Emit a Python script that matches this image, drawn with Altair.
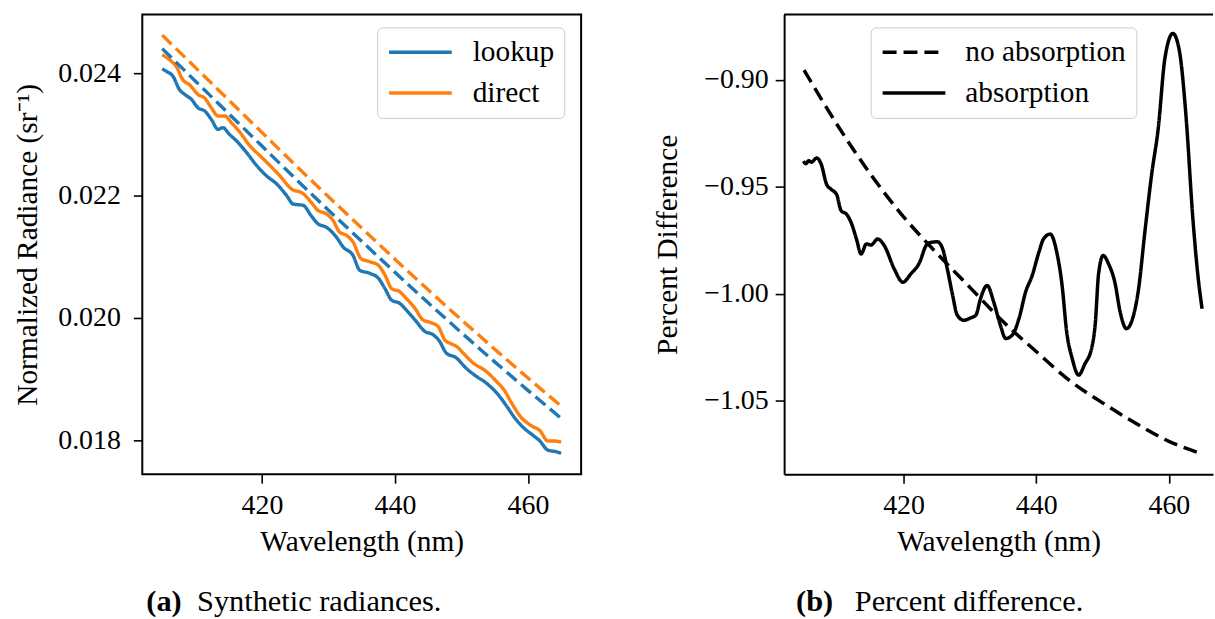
import altair as alt
import pandas as pd

FONT = "Liberation Serif"

# ---------------- panel (a): synthetic radiances ----------------
series_names = ["lookup", "direct"]
series_colors = ["#1f77b4", "#ff7f0e"]
kind_names = ["absorption", "no absorption"]

wl_smooth = [405, 410, 415, 420, 425, 430, 435, 440, 445, 450, 455, 460, 465]
direct_noabs = [0.02462, 0.02409, 0.02356, 0.02303, 0.02250, 0.02198, 0.02147,
                0.02096, 0.02046, 0.01997, 0.01949, 0.01902, 0.01856]
lookup_noabs = [0.024400, 0.023868, 0.023338, 0.022808, 0.022279, 0.021761, 0.021253,
                0.020745, 0.020247, 0.019760, 0.019283, 0.018817, 0.018361]

wl_direct_abs = [405.0, 406.4, 407.1, 408.1, 409.1, 410.4, 411.4, 412.4, 413.4, 414.4,
                 415.4, 416.7, 418.2, 419.7, 421.2, 422.7, 424.4, 426.2, 427.4, 428.4,
                 429.7, 430.7, 431.7, 432.7, 433.7, 434.9, 436.2, 437.5, 438.5, 439.5,
                 440.7, 441.7, 443.0, 444.2, 445.5, 446.5, 447.5, 448.2, 449.2, 450.5,
                 451.7, 453.7, 455.2, 456.5, 457.5, 458.8, 460.5, 461.8, 463.0, 464.0, 465.0]
direct_abs = [0.02430, 0.02419, 0.02411, 0.02389, 0.02381, 0.02365, 0.02359, 0.02343, 0.02330, 0.02330,
              0.02319, 0.02303, 0.02281, 0.02265, 0.02249, 0.02232, 0.02211, 0.02203, 0.02189, 0.02176,
              0.02170, 0.02159, 0.02140, 0.02135, 0.02124, 0.02097, 0.02092, 0.02086, 0.02070, 0.02048,
              0.02043, 0.02032, 0.02016, 0.01997, 0.01992, 0.01986, 0.01964, 0.01959, 0.01954, 0.01940,
              0.01927, 0.01913, 0.01897, 0.01881, 0.01862, 0.01840, 0.01824, 0.01816, 0.01799, 0.01799, 0.01797]

wl_lookup_abs = [405.0, 405.6, 406.6, 407.6, 408.4, 409.4, 410.4, 411.4, 412.4, 413.4,
                 414.1, 415.1, 416.2, 417.7, 419.2, 420.7, 422.2, 423.7, 424.7, 426.2,
                 427.4, 428.4, 429.7, 431.2, 432.2, 433.7, 434.7, 436.2, 437.5, 438.5,
                 439.5, 440.7, 441.7, 443.0, 444.5, 445.7, 446.7, 447.7, 449.2, 450.7,
                 452.2, 453.7, 455.5, 456.8, 458.0, 459.3, 460.8, 461.8, 463.0, 464.0, 465.0]
lookup_abs = [0.02407, 0.02403, 0.02395, 0.02373, 0.02365, 0.02357, 0.02343, 0.02338, 0.02324, 0.02308,
              0.02311, 0.02300, 0.02289, 0.02270, 0.02249, 0.02232, 0.02219, 0.02200, 0.02186, 0.02184,
              0.02167, 0.02154, 0.02148, 0.02132, 0.02116, 0.02102, 0.02078, 0.02073, 0.02065, 0.02048,
              0.02029, 0.02024, 0.02013, 0.01997, 0.01978, 0.01973, 0.01962, 0.01943, 0.01935, 0.01918,
              0.01905, 0.01894, 0.01875, 0.01856, 0.01837, 0.01821, 0.01808, 0.01799, 0.01784, 0.01782, 0.01779]

# ---------------- panel (b): percent difference ----------------
pd_kind_names = ["no absorption", "absorption"]
pd_noabs = [-0.8955, -0.921, -0.944, -0.964, -0.981, -0.997, -1.013,
            -1.027, -1.0405, -1.051, -1.0605, -1.069, -1.0748]

wl_pd_abs = [404.9, 405.3, 405.7, 406.1, 406.9, 407.6, 408.4, 409.1, 409.9, 410.6,
             411.4, 412.1, 412.9, 413.6, 414.4, 415.1, 416.1, 417.1, 418.6, 419.9,
             421.1, 422.4, 423.4, 424.1, 425.1, 425.9, 426.6, 427.4, 428.1, 429.1,
             430.1, 430.9, 431.6, 432.6, 433.6, 434.6, 435.4, 436.4, 437.4, 438.4,
             439.4, 440.4, 441.1, 442.1, 443.1, 443.9, 444.6, 445.4, 446.4, 447.3,
             448.4, 448.9, 449.4, 450.1, 450.9, 451.9, 452.6, 453.6, 454.6, 455.4,
             456.4, 457.4, 458.4, 459.4, 460.6, 461.6, 462.6, 463.6, 464.4, 465.0]
pd_abs = [-0.9380, -0.9392, -0.9378, -0.9385, -0.9365, -0.9395, -0.9488, -0.9512, -0.9535, -0.9612,
          -0.9628, -0.9667, -0.9744, -0.9814, -0.9767, -0.9772, -0.9744, -0.9775, -0.9884, -0.9946,
          -0.9907, -0.9855, -0.9775, -0.9760, -0.9757, -0.9790, -0.9884, -1.0007, -1.0100, -1.0124,
          -1.0113, -1.0100, -1.0023, -0.9961, -1.0039, -1.0147, -1.0209, -1.0193, -1.0116, -0.9992,
          -0.9914, -0.9806, -0.9744, -0.9721, -0.9806, -0.9961, -1.0180, -1.0300, -1.0380, -1.0330,
          -1.0248, -1.0140, -0.9907, -0.9821, -0.9860, -0.9953, -1.0077, -1.0163, -1.0108, -0.9984,
          -0.9705, -0.9442, -0.9225, -0.8899, -0.8783, -0.8868, -0.9178, -0.9643, -0.9922, -1.0070]

x_ticks = [420, 440, 460]
y_ticks_a = [0.018, 0.020, 0.022, 0.024]
y_ticks_b = [-1.05, -1.00, -0.95, -0.90]
captions_a = ["(a)", "Synthetic radiances."]
captions_b = ["(b)", "Percent difference."]


def frame(wl, vals, series, kind):
    return pd.DataFrame({"wavelength": wl, "value": vals, "series": series, "kind": kind})


df_a = pd.concat([
    frame(wl_lookup_abs, lookup_abs, "lookup", "absorption"),
    frame(wl_direct_abs, direct_abs, "direct", "absorption"),
    frame(wl_smooth, lookup_noabs, "lookup", "no absorption"),
    frame(wl_smooth, direct_noabs, "direct", "no absorption"),
], ignore_index=True)
df_a["line"] = df_a["series"] + " " + df_a["kind"]

df_b = pd.concat([
    frame(wl_smooth, pd_noabs, "pd", "no absorption"),
    frame(wl_pd_abs, pd_abs, "pd", "absorption"),
], ignore_index=True)

W_A, H = 441, 462
W_B = 431
TITLE_SIZE = 29.5
LABEL_SIZE = 28
CAP_SIZE = 30.5


def legend(x, y, label_offset):
    return alt.Legend(
        orient="none", legendX=x, legendY=y, title=None,
        symbolType="stroke", symbolSize=3969, symbolStrokeWidth=3.5,
        labelFont=FONT, labelFontSize=29.5, labelColor="black", labelOffset=label_offset,
        labelLimit=400, clipHeight=30, rowPadding=11, padding=10,
        strokeColor="#cccccc", fillColor="rgba(255,255,255,0.85)", cornerRadius=5,
    )


def captions(texts, x_bold, x_text):
    bold = alt.Chart(pd.DataFrame({"t": [texts[0]]})).mark_text(
        font=FONT, fontSize=CAP_SIZE, fontWeight="bold", align="left", baseline="alphabetic", color="black"
    ).encode(text="t:N", x=alt.value(x_bold), y=alt.value(599))
    normal = alt.Chart(pd.DataFrame({"t": [texts[1]]})).mark_text(
        font=FONT, fontSize=CAP_SIZE, align="left", baseline="alphabetic", color="black"
    ).encode(text="t:N", x=alt.value(x_text), y=alt.value(599))
    return [bold, normal]


lines_a = alt.Chart(df_a).mark_line(strokeWidth=3.4, interpolate="monotone").encode(
    x=alt.X("wavelength:Q",
            scale=alt.Scale(domain=[402, 468], nice=False, zero=False),
            axis=alt.Axis(values=x_ticks, format="d", title="Wavelength (nm)")),
    y=alt.Y("value:Q",
            scale=alt.Scale(domain=[0.017448, 0.024958], nice=False, zero=False),
            axis=alt.Axis(values=y_ticks_a, format=".3f", title="Normalized Radiance (sr⁻¹)",
                          labelPadding=13, titlePadding=15)),
    color=alt.Color("series:N", scale=alt.Scale(domain=series_names, range=series_colors),
                    legend=legend(236, 13, 19)),
    strokeDash=alt.StrokeDash("kind:N", scale=alt.Scale(domain=kind_names, range=[[1, 0], [13, 6]]),
                              legend=None),
    detail="line:N",
)

left = alt.layer(lines_a, *captions(captions_a, 4, 55)).properties(width=W_A, height=H)

lines_b = alt.Chart(df_b).mark_line(strokeWidth=3.5, color="black", interpolate="monotone").encode(
    x=alt.X("wavelength:Q",
            scale=alt.Scale(domain=[402, 466.65], nice=False, zero=False),
            axis=alt.Axis(values=x_ticks, format="d", title="Wavelength (nm)",
                          domain=True, domainColor="black", domainWidth=2)),
    y=alt.Y("value:Q",
            scale=alt.Scale(domain=[-1.08433, -0.86944], nice=False, zero=False),
            axis=alt.Axis(values=y_ticks_b, format=".2f", title="Percent Difference",
                          labelPadding=7, titlePadding=21,
                          domain=True, domainColor="black", domainWidth=2)),
    strokeDash=alt.StrokeDash("kind:N", scale=alt.Scale(domain=pd_kind_names, range=[[14, 7], [1, 0]]),
                              legend=alt.Legend(**legend(87, 13, 18).to_dict(), symbolStrokeColor="black")),
)

top_spine = alt.Chart(pd.DataFrame({"z": [0]})).mark_rule(color="black", strokeWidth=2).encode(
    x=alt.value(0), x2=alt.value(W_B), y=alt.value(0)
)

right = alt.layer(lines_b, top_spine, *captions(captions_b, 12, 71)).properties(
    width=W_B, height=H, view=alt.ViewBackground(stroke="transparent")
)

chart = alt.hconcat(left, right, spacing=70).resolve_scale(
    color="independent", strokeDash="independent"
).resolve_legend(
    color="independent", strokeDash="independent"
).properties(
    padding={"left": 12, "top": 11, "right": 0, "bottom": 0},
    background="white",
).configure_view(
    stroke="black", strokeWidth=2
).configure_axis(
    labelFont=FONT, labelFontSize=LABEL_SIZE, labelColor="black",
    titleFont=FONT, titleFontSize=TITLE_SIZE, titleFontWeight="normal", titleColor="black",
    tickColor="black", tickWidth=1.6, tickSize=9, grid=False, domain=False,
).configure_axisX(
    labelPadding=9, titlePadding=8,
)

chart.save("out.html", embed_options={"renderer": "svg", "actions": False})
